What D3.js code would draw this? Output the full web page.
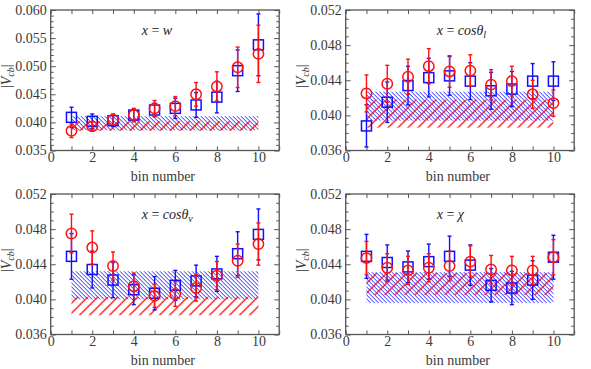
<!DOCTYPE html>
<html><head><meta charset="utf-8">
<script src="https://cdn.jsdelivr.net/npm/d3@7"></script>
<style>
html,body{margin:0;padding:0;background:#fff;}
</style></head>
<body>
<svg id="chart" width="591" height="369"></svg>
<script>
const bins = [1,2,3,4,5,6,7,8,9,10];

// Panel 1: x = w
const wBlue    = [0.0409,0.0402,0.0403,0.0413,0.0422,0.0425,0.0431,0.0445,0.0492,0.0538];
const wBlueErr = [0.0018,0.0013,0.0010,0.0010,0.0012,0.0018,0.0022,0.0028,0.0037,0.0055];
const wRed     = [0.0385,0.0393,0.0405,0.0413,0.0425,0.0429,0.0450,0.0464,0.0498,0.0522];
const wRedErr  = [0.0012,0.0008,0.0010,0.0012,0.0014,0.0017,0.0021,0.0026,0.0036,0.0051];
const wBlueBand = [0.0386,0.0411];
const wRedBand  = [0.0385,0.0402];

// Panel 2: x = cos theta_l
const lBlue    = [0.0388,0.0415,0.0434,0.0443,0.0445,0.0439,0.0428,0.0430,0.0439,0.0439];
const lBlueErr = [0.0024,0.0023,0.0022,0.0022,0.0022,0.0021,0.0021,0.0020,0.0020,0.0022];
const lRed     = [0.0425,0.0436,0.0444,0.0456,0.0450,0.0451,0.0435,0.0439,0.0424,0.0414];
const lRedErr  = [0.0021,0.0021,0.0020,0.0020,0.0018,0.0018,0.0017,0.0017,0.0016,0.0015];
const lBlueBand = [0.0394,0.0427];
const lRedBand  = [0.0386,0.0418];

// Panel 3: x = cos theta_v
const vBlue    = [0.0449,0.0434,0.0422,0.0411,0.0407,0.0416,0.0421,0.0429,0.0452,0.0474];
const vBlueErr = [0.0026,0.0021,0.0020,0.0017,0.0019,0.0017,0.0018,0.0020,0.0025,0.0029];
const vRed     = [0.0475,0.0459,0.0438,0.0415,0.0404,0.0406,0.0413,0.0427,0.0444,0.0463];
const vRedErr  = [0.0022,0.0019,0.0016,0.0015,0.0013,0.0014,0.0015,0.0016,0.0019,0.0024];
const vBlueBand = [0.0400,0.0432];
const vRedBand  = [0.0382,0.0403];

// Panel 4: x = chi
const cBlue    = [0.0449,0.0442,0.0437,0.0443,0.0449,0.0439,0.0416,0.0413,0.0422,0.0448];
const cBlueErr = [0.0025,0.0020,0.0018,0.0020,0.0023,0.0023,0.0019,0.0019,0.0022,0.0025];
const cRed     = [0.0447,0.0436,0.0433,0.0436,0.0438,0.0443,0.0434,0.0433,0.0433,0.0448];
const cRedErr  = [0.0019,0.0016,0.0016,0.0016,0.0017,0.0018,0.0016,0.0016,0.0016,0.0020];
const cBlueBand = [0.0396,0.0431];
const cRedBand  = [0.0405,0.0430];

const xTicks = [0,2,4,6,8,10];
const yTicksA = [0.035,0.040,0.045,0.050,0.055,0.060];
const yTicksB = [0.036,0.040,0.044,0.048,0.052];

const panels = [
  {x0:50.7, y0:10,  label:"w",   sub:null, yDom:[0.035,0.060], yTicks:yTicksA, minor:0.001,
   blue:wBlue, blueErr:wBlueErr, red:wRed, redErr:wRedErr, bb:wBlueBand, rb:wRedBand},
  {x0:345.7,y0:10,  label:"cosθ", sub:"l", yDom:[0.036,0.052], yTicks:yTicksB, minor:0.001,
   blue:lBlue, blueErr:lBlueErr, red:lRed, redErr:lRedErr, bb:lBlueBand, rb:lRedBand},
  {x0:50.7, y0:194, label:"cosθ", sub:"v", yDom:[0.036,0.052], yTicks:yTicksB, minor:0.001,
   blue:vBlue, blueErr:vBlueErr, red:vRed, redErr:vRedErr, bb:vBlueBand, rb:vRedBand},
  {x0:345.7,y0:194, label:"χ",   sub:null, yDom:[0.036,0.052], yTicks:yTicksB, minor:0.001,
   blue:cBlue, blueErr:cBlueErr, red:cRed, redErr:cRedErr, bb:cBlueBand, rb:cRedBand}
];

const FONT = "'Liberation Serif', 'DejaVu Serif', serif";
const W = 228.5, H = 140.5;
const BLUE = "#1010ff", RED = "#ff1010", FRAME = "#555", TXT = "#3a3a3a";
const svg = d3.select("#chart");
const defs = svg.append("defs");

const pb = defs.append("pattern").attr("id","hatchBlue").attr("patternUnits","userSpaceOnUse")
  .attr("width",4).attr("height",4);
pb.append("path").attr("d","M-1,-1L5,5M-1,3L1,5M3,-1L5,1")
  .attr("stroke",BLUE).attr("stroke-width",0.9).attr("fill","none");
const pr = defs.append("pattern").attr("id","hatchRed").attr("patternUnits","userSpaceOnUse")
  .attr("width",10).attr("height",10);
pr.append("path").attr("d","M-1,11L11,-1M-2,2L2,-2M8,12L12,8")
  .attr("stroke",RED).attr("stroke-width",1.3).attr("fill","none");

panels.forEach((p,i) => {
  const g = svg.append("g").attr("transform",`translate(${p.x0},${p.y0})`);
  const x = d3.scaleLinear().domain([0,11]).range([0,W]);
  const y = d3.scaleLinear().domain(p.yDom).range([H,0]);

  // bands
  g.append("rect").attr("x",x(1)).attr("width",x(10)-x(1))
    .attr("y",y(p.bb[1])).attr("height",y(p.bb[0])-y(p.bb[1]))
    .attr("fill","url(#hatchBlue)");
  g.append("rect").attr("x",x(1)).attr("width",x(10)-x(1))
    .attr("y",y(p.rb[1])).attr("height",y(p.rb[0])-y(p.rb[1]))
    .attr("fill","url(#hatchRed)");

  // axes
  const minorVals = d3.range(Math.round(p.yDom[0]/p.minor), Math.round(p.yDom[1]/p.minor)+1).map(k=>k*p.minor)
      .filter(v => !p.yTicks.some(t => Math.abs(t-v)<1e-9));
  const xAllTicks = d3.range(0,12);
  const styleAxis = sel => { sel.attr("font-family",FONT).attr("font-size",14);
    sel.select(".domain").remove(); sel.selectAll("line").attr("stroke",FRAME).attr("stroke-width",1);
    sel.selectAll("text").attr("fill",TXT); };

  g.append("g").attr("transform",`translate(0,${H})`)
    .call(d3.axisBottom(x).tickValues(xAllTicks).tickSizeInner(-4).tickSizeOuter(0)
      .tickPadding(2).tickFormat(d => d%2===0 ? d3.format("d")(d) : ""))
    .call(styleAxis);
  g.append("g")
    .call(d3.axisTop(x).tickValues(xAllTicks).tickSizeInner(-4).tickSizeOuter(0).tickFormat(""))
    .call(styleAxis);
  g.append("g")
    .call(d3.axisLeft(y).tickValues(p.yTicks).tickSizeInner(-5).tickSizeOuter(0)
      .tickPadding(4).tickFormat(d3.format(".3f")))
    .call(styleAxis);
  g.append("g").call(d3.axisLeft(y).tickValues(minorVals).tickSizeInner(-3).tickSizeOuter(0).tickFormat(""))
    .call(styleAxis);
  g.append("g").attr("transform",`translate(${W},0)`)
    .call(d3.axisRight(y).tickValues(p.yTicks).tickSizeInner(-5).tickSizeOuter(0).tickFormat(""))
    .call(styleAxis);
  g.append("g").attr("transform",`translate(${W},0)`)
    .call(d3.axisRight(y).tickValues(minorVals).tickSizeInner(-3).tickSizeOuter(0).tickFormat(""))
    .call(styleAxis);

  g.append("rect").attr("width",W).attr("height",H).attr("fill","none")
    .attr("stroke",FRAME).attr("stroke-width",1.3);

  // series
  const drawErr = (vals, errs, color) => {
    const eg = g.append("g").attr("stroke",color).attr("stroke-width",1.4).attr("fill","none");
    bins.forEach((b,k) => {
      const xc = x(b), yt = y(vals[k]+errs[k]), yb = y(vals[k]-errs[k]);
      eg.append("line").attr("x1",xc).attr("x2",xc).attr("y1",yt).attr("y2",yb);
      eg.append("line").attr("x1",xc-2).attr("x2",xc+2).attr("y1",yt).attr("y2",yt);
      eg.append("line").attr("x1",xc-2).attr("x2",xc+2).attr("y1",yb).attr("y2",yb);
    });
  };
  drawErr(p.blue, p.blueErr, BLUE);
  g.append("g").selectAll("rect").data(bins).join("rect")
    .attr("x",(d,k)=>x(d)-5).attr("y",(d,k)=>y(p.blue[k])-5).attr("width",10).attr("height",10)
    .attr("fill","none").attr("stroke",BLUE).attr("stroke-width",1.5);
  drawErr(p.red, p.redErr, RED);
  g.append("g").selectAll("circle").data(bins).join("circle")
    .attr("cx",d=>x(d)).attr("cy",(d,k)=>y(p.red[k])).attr("r",5.2)
    .attr("fill","none").attr("stroke",RED).attr("stroke-width",1.5);

  // annotation
  const t = g.append("text").attr("x",91).attr("y",25).attr("font-size",14)
    .attr("font-family",FONT).attr("font-style","italic").attr("fill","#222");
  t.append("tspan").text("x");
  t.append("tspan").attr("font-style","normal").text(" = ");
  t.append("tspan").text(p.label);
  if (p.sub) t.append("tspan").attr("dy",3).attr("font-size",10).text(p.sub);

  // axis labels
  g.append("text").attr("x",W/2 - 2).attr("y",H+30).attr("text-anchor","middle")
    .attr("font-family",FONT).attr("font-size",14).attr("fill",TXT).text("bin number");
  const yl = g.append("text").attr("transform",`translate(-40,${H/2 - 4}) rotate(-90)`)
    .attr("text-anchor","middle").attr("font-family",FONT).attr("font-size",14).attr("fill",TXT);
  yl.append("tspan").text("|");
  yl.append("tspan").attr("font-style","italic").text("V");
  yl.append("tspan").attr("font-style","italic").attr("font-size",10).attr("dy",3).text("cb");
  yl.append("tspan").attr("dy",-3).text("|");
});
</script>
</body></html>
